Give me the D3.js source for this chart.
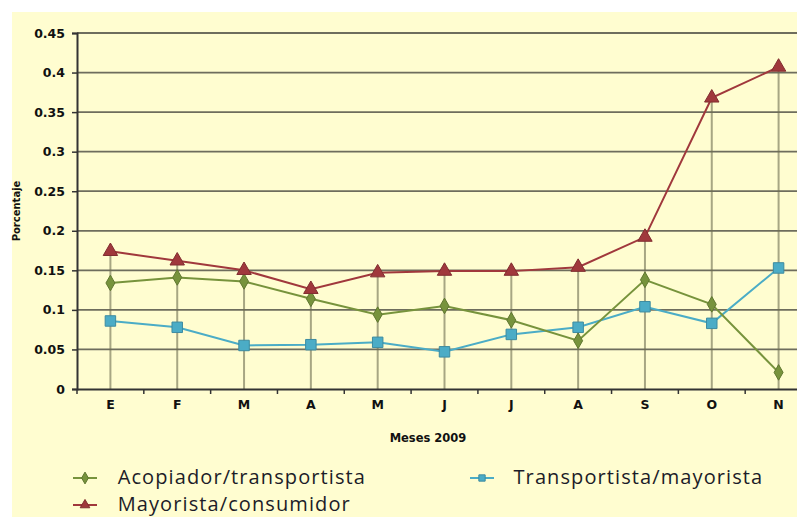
<!DOCTYPE html>
<html><head><meta charset="utf-8">
<script src="https://cdn.jsdelivr.net/npm/d3@7"></script>
<style>body{margin:0;background:#fff}svg{display:block}</style>
</head><body>
<script>
const months = ["E","F","M","A","M","J","J","A","S","O","N"];
const acopiador = [0.134,0.141,0.136,0.114,0.094,0.105,0.087,0.061,0.138,0.107,0.021];
const mayorista = [0.174,0.162,0.150,0.126,0.147,0.149,0.149,0.154,0.192,0.368,0.407];
const transportista = [0.086,0.078,0.055,0.056,0.059,0.047,0.069,0.078,0.104,0.083,0.153];
const yTicks = [0,0.05,0.1,0.15,0.2,0.25,0.3,0.35,0.4,0.45];
const seriesNames = ["Acopiador/transportista","Transportista/mayorista","Mayorista/consumidor"];

const W=797,H=517;
const svg=d3.select("body").append("svg").attr("width",W).attr("height",H);
svg.append("rect").attr("x",12).attr("y",12).attr("width",W-12).attr("height",H-12).attr("fill","#fffdd0");

const x=d3.scaleBand().domain(d3.range(months.length)).range([77,812]).padding(0);
const y=d3.scaleLinear().domain([0,0.45]).range([389,33]);
const cx=i=>x(i)+x.bandwidth()/2;

const g=svg.append("g");
g.selectAll(".hg").data(yTicks.slice(1)).join("line")
 .attr("x1",77).attr("x2",W).attr("y1",d=>y(d)).attr("y2",d=>y(d))
 .attr("stroke","#55554a").attr("stroke-width",1.8).attr("opacity",0.85);
g.selectAll(".dl").data(months.map((m,i)=>i)).join("line")
 .attr("x1",cx).attr("x2",cx).attr("y1",i=>y(Math.max(acopiador[i],mayorista[i],transportista[i]))).attr("y2",y(0))
 .attr("stroke","#6e6e50").attr("stroke-width",2).attr("opacity",0.6);

const ya=d3.axisLeft(y).tickValues(yTicks).tickSize(5).tickFormat(d=>d===0?"0":String(+d.toFixed(2)));
const yg=svg.append("g").attr("transform","translate(77,0)").call(ya);
yg.select(".domain").attr("stroke","#333").attr("stroke-width",2);
yg.selectAll(".tick line").attr("stroke","#333").attr("stroke-width",1.5);
yg.selectAll("text").attr("font-family","'DejaVu Sans'").attr("font-weight","bold").attr("font-size",12.5).attr("fill","#111").attr("dx",-4);

const xa=d3.axisBottom(x).tickFormat(i=>months[i]).tickSize(0);
const xg=svg.append("g").attr("transform","translate(0,389)").call(xa);
xg.select(".domain").attr("stroke","#333").attr("stroke-width",2);
xg.selectAll("text").attr("font-family","'DejaVu Sans'").attr("font-weight","bold").attr("font-size",12.5).attr("fill","#111").attr("dy",17);
svg.append("g").selectAll("line").data(d3.range(months.length+1)).join("line")
 .attr("x1",i=>77+i*x.bandwidth()).attr("x2",i=>77+i*x.bandwidth()).attr("y1",389).attr("y2",394)
 .attr("stroke","#333").attr("stroke-width",1.5);

svg.append("text").attr("x",428).attr("y",442).attr("text-anchor","middle")
 .attr("font-family","'DejaVu Sans'").attr("font-weight","bold").attr("font-size",11.5).attr("fill","#111").text("Meses 2009");
svg.append("text").attr("transform","translate(20,211) rotate(-90)").attr("text-anchor","middle")
 .attr("font-family","'DejaVu Sans'").attr("font-weight","bold").attr("font-size",10).attr("fill","#111").text("Porcentaje");

const colors={acop:"#77933c",trans:"#4bacc6",may:"#a0383c"};
const line=d3.line().x((d,i)=>cx(i)).y(d=>y(d));
function series(data,color,shape){
  const s=svg.append("g");
  s.append("path").datum(data).attr("d",line).attr("fill","none").attr("stroke",color).attr("stroke-width",2);
  const sym=d3.symbol().type(shape).size(shape===d3.symbolSquare?110:(shape===d3.symbolTriangle?90:70));
  s.selectAll("path.m").data(data).join("path").attr("class","m")
   .attr("d",sym).attr("transform",(d,i)=>`translate(${cx(i)},${y(d)})`)
   .attr("fill",color).attr("stroke",d3.color(color).darker(0.6)).attr("stroke-width",1);
}
series(transportista,colors.trans,d3.symbolSquare);
series(acopiador,colors.acop,d3.symbolDiamond);
series(mayorista,colors.may,d3.symbolTriangle);

const leg=[{n:seriesNames[0],c:colors.acop,s:d3.symbolDiamond,x:73,y:478},
           {n:seriesNames[1],c:colors.trans,s:d3.symbolSquare,x:470,y:478},
           {n:seriesNames[2],c:colors.may,s:d3.symbolTriangle,x:73,y:505}];
const lg=svg.append("g").selectAll("g").data(leg).join("g").attr("transform",d=>`translate(${d.x},${d.y})`);
lg.append("line").attr("x1",0).attr("x2",24).attr("stroke",d=>d.c).attr("stroke-width",2);
lg.append("path").attr("d",d=>d3.symbol().type(d.s).size(40)()).attr("transform","translate(12,0)")
 .attr("fill",d=>d.c).attr("stroke",d=>d3.color(d.c).darker(0.6));
lg.append("text").attr("x",d=>d.x===470?43.5:44.7).attr("y",6).attr("font-family","'Open Sans'").attr("font-size",20)
 .attr("letter-spacing",1.1).attr("fill","#1c1c28").text(d=>d.n);
</script>
</body></html>
